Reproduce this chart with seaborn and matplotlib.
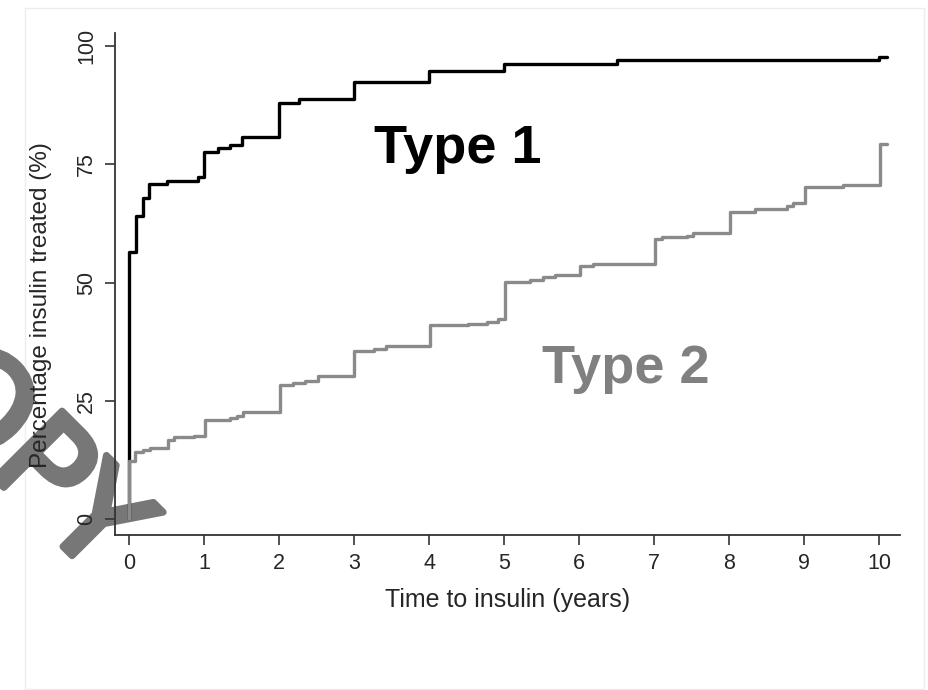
import matplotlib
matplotlib.use("Agg")
import matplotlib.pyplot as plt
import matplotlib.patches as mpatches
import matplotlib.patheffects as pe
import seaborn as sns
import pandas as pd

# ---- data ----
t_type1 = [0.0, 0.0, 0.09, 0.18, 0.26, 0.50, 0.92, 1.00, 1.18, 1.35, 1.51, 2.00, 2.27,
           3.00, 4.00, 5.00, 6.50, 10.00, 10.10]
p_type1 = [0.0, 56.5, 64.1, 67.8, 70.9, 71.5, 72.3, 77.7, 78.4, 79.1, 80.7, 88.0, 88.8,
           92.5, 94.7, 96.3, 97.0, 97.7, 97.7]

t_type2 = [0.0, 0.0, 0.08, 0.18, 0.28, 0.52, 0.60, 0.86, 1.01, 1.35, 1.44, 1.52, 2.01,
           2.18, 2.35, 2.52, 3.00, 3.26, 3.43, 4.01, 4.52, 4.77, 4.92, 5.01, 5.35, 5.52,
           5.68, 6.01, 6.18, 7.01, 7.10, 7.44, 7.52, 8.01, 8.35, 8.77, 8.85, 9.01, 9.52,
           10.01, 10.10]
p_type2 = [0.0, 12.3, 14.2, 14.6, 14.9, 16.8, 17.3, 17.5, 20.9, 21.4, 21.8, 22.7, 28.3,
           28.7, 29.1, 30.3, 35.5, 35.9, 36.6, 41.0, 41.2, 41.7, 42.4, 50.2, 50.5, 51.2,
           51.7, 53.6, 53.9, 59.3, 59.7, 59.9, 60.5, 65.0, 65.5, 66.2, 66.9, 70.2, 70.6,
           79.3, 79.3]

x_ticks = [0, 1, 2, 3, 4, 5, 6, 7, 8, 9, 10]
y_ticks = [0, 25, 50, 75, 100]
x_label = "Time to insulin (years)"
y_label = "Percentage insulin treated (%)"
label_type1 = "Type 1"
label_type2 = "Type 2"
watermark = "COPY"

df1 = pd.DataFrame({"t": t_type1, "p": p_type1})
df2 = pd.DataFrame({"t": t_type2, "p": p_type2})

sns.set_theme(style="white")
plt.rcParams["font.family"] = ["Liberation Sans", "DejaVu Sans"]

W, H, DPI = 929, 690, 100
fig = plt.figure(figsize=(W / DPI, H / DPI), dpi=DPI)
fig.patch.set_facecolor("white")

# faint frame of the original panel
fig.patches.append(mpatches.Rectangle((25 / W, 1 - 689 / H), (924 - 25) / W, (689 - 8) / H,
                                      transform=fig.transFigure, fill=False,
                                      edgecolor="#ededed", linewidth=1.0, zorder=-2))

ax = fig.add_axes([115 / W, 1 - 535 / H, (900 - 115) / W, (535 - 33) / H])
ax.set_facecolor("none")

sns.lineplot(data=df1, x="t", y="p", ax=ax, estimator=None, sort=False,
             drawstyle="steps-post", color="black", linewidth=2.4, zorder=3)
sns.lineplot(data=df2, x="t", y="p", ax=ax, estimator=None, sort=False,
             drawstyle="steps-post", color="#8a8a8a", linewidth=2.4, zorder=4)

ax.set_xlim(-0.187, 10.28)
ax.set_ylim(-3.4, 102.8)
ax.set_xticks(x_ticks)
ax.set_xticklabels([str(v) for v in x_ticks], fontsize=15.5)
ax.set_yticks(y_ticks)
ax.set_yticklabels([str(v) for v in y_ticks], fontsize=15.5, rotation=90, va="center")
ax.tick_params(axis="both", direction="out", length=7, width=1.2, color="#333333",
               bottom=True, left=True, pad=6)
ax.set_xlabel(x_label, fontsize=18, labelpad=10)
ax.set_ylabel(y_label, fontsize=17.5)
ax.yaxis.set_label_coords(-(115 - 52) / (900 - 115), 1 - (305 - 33) / (535 - 33))

for s in ["top", "right"]:
    ax.spines[s].set_visible(False)
for s in ["left", "bottom"]:
    ax.spines[s].set_color("#333333")
    ax.spines[s].set_linewidth(1.3)

ax.text((458 - 115) / (900 - 115), 1 - (149 - 33) / (535 - 33), label_type1,
        transform=ax.transAxes, fontsize=39, fontweight="bold", color="black",
        ha="center", va="center")
ax.text((626 - 115) / (900 - 115), 1 - (369 - 33) / (535 - 33), label_type2,
        transform=ax.transAxes, fontsize=39, fontweight="bold", color="#808080",
        ha="center", va="center")

# watermark (behind the chart)
fig.text(-2 / W, 1 - 430 / H, watermark, fontsize=94, fontweight="normal",
         family="DejaVu Sans", color="#777777", rotation=-45,
         rotation_mode="anchor", ha="center", va="center", zorder=-1,
         path_effects=[pe.withStroke(linewidth=5, foreground="#777777")])

fig.savefig("out.png", dpi=DPI, facecolor="white")
